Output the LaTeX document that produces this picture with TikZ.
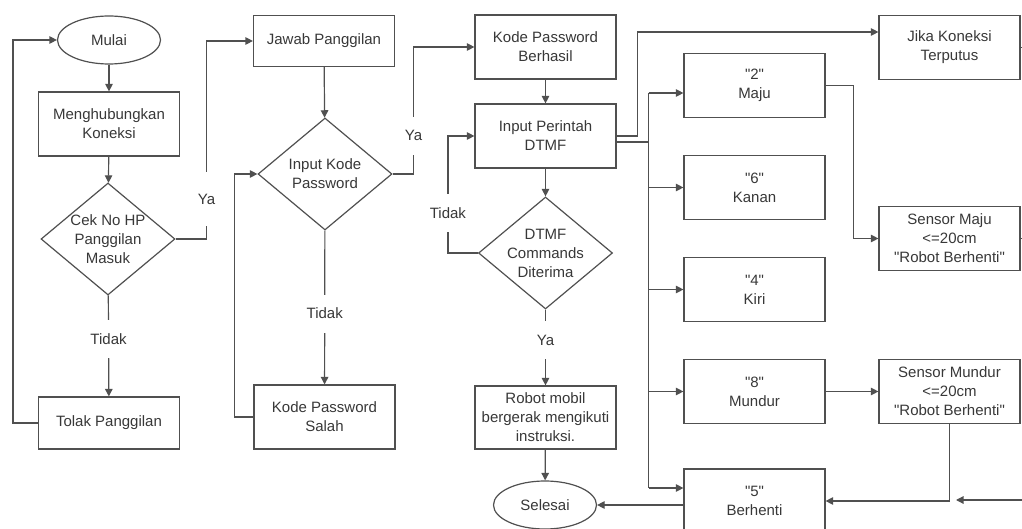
\documentclass[tikz,border=0pt]{standalone}
\usepackage{fontspec}
\setmainfont{Liberation Sans}[Ligatures=TeXOff]
\usepackage{tikz}
\usetikzlibrary{positioning,shapes.geometric,arrows.meta}
\definecolor{linegray}{HTML}{505050}
\definecolor{textgray}{HTML}{383838}

\begin{document}
\begin{tikzpicture}[x=1pt, y=-1pt, >={Triangle[length=7.5pt,width=7.5pt]}, color=linegray, line width=1.2pt,
	every node/.style={font=\fontsize{15}{19}\selectfont, text=textgray},
	process/.style={rectangle, draw, fill=white, minimum width=141pt, minimum height=64pt, align=center, inner sep=2pt},
	decision/.style={diamond, draw, fill=white, aspect=1.2, minimum width=134pt, minimum height=112pt, inner sep=-2pt, align=center},
	terminal/.style={ellipse, draw, fill=white, minimum width=103pt, minimum height=48pt},
	lbl/.style={fill=white, inner sep=1pt, minimum height=38pt}]
	
		\useasboundingbox (0,0) rectangle (1022,529);
		
		\node [terminal] (mulai) at (109,40) {Mulai};
		\node [process] (koneksi) at (109,124) {Menghubungkan\\Koneksi};
		\node [decision] (cekhp) at (108,239) {Cek No HP\\Panggilan\\Masuk};
		\node [process, minimum height=52pt] (tolak) at (109,423) {Tolak Panggilan};
		
		\node [process, minimum height=51pt] (jawab) at (324,41) {Jawab Panggilan};
		\node [decision] (inputkode) at (325,174) {Input Kode\\Password};
		\node [process] (salah) at (324.5,417) {Kode Password\\Salah};
		
		\node [process] (berhasil) at (545.5,47) {Kode Password\\Berhasil};
		\node [process] (perintah) at (545.5,136) {Input Perintah\\DTMF};
		\node [decision] (diterima) at (545.5,253) {DTMF\\Commands\\Diterima};
		\node [process, minimum height=63pt] (robot) at (545.5,417.5) {Robot mobil\\bergerak mengikuti\\instruksi.};
		\node [terminal] (selesai) at (545,505) {Selesai};
		
		\foreach \n/\k/\t/\y in {maju/2/Maju/85.5, kanan/6/Kanan/187.5, kiri/4/Kiri/289.5, mundur/8/Mundur/391.5, berhenti/5/Berhenti/501}
		\node [process] (\n) at (754.5,\y) {"\k"\\\t};
		
		\node [process] (jika) at (949.5,47.5) {Jika Koneksi\\Terputus};
		\node [process] (sensormaju) at (949.5,238.5) {Sensor Maju\\<=20cm\\"Robot Berhenti"};
		\node [process] (sensormundur) at (949.5,391.5) {Sensor Mundur\\<=20cm\\"Robot Berhenti"};
		
		\draw [->] (mulai) -- (koneksi);
		\draw [->] (koneksi) -- (cekhp);
		\draw [->] (cekhp) -- node [lbl, pos=0.43] {Tidak} (tolak);
		\draw [->] (tolak.west) -- ++(-25,0) |- (mulai.west);
		\draw [->] (cekhp.east) -- ++(31,0) |- node [lbl, pos=0.1, minimum height=54pt] {Ya} (jawab.west);
		
		\draw [->] (jawab) -- (inputkode);
		\draw [->] (inputkode) -- node [lbl, pos=0.54] {Tidak} (salah);
		\draw [->] (salah.west) -- ++(-19,0) |- (inputkode.west);
		\draw [->] (inputkode.east) -- ++(21,0) |- node [lbl, pos=0.15] {Ya} (berhasil.west);
		
		\draw [->] (berhasil) -- (perintah);
		\draw [->] (perintah) -- (diterima);
		\draw [->] (diterima.west) -- ++(-30,0) |- node [lbl, pos=0.17] {Tidak} (perintah.west);
		\draw [->] (diterima) -- node [lbl, pos=0.4] {Ya} (robot);
		\draw [->] (robot) -- (selesai);
		
		\draw [->] (perintah.east) -- ++(21,0) |- ([yshift=15.5pt]jika.west);
		\draw ([yshift=-6pt]perintah.east) -- ++(32,0) coordinate (bus);
		
		\foreach \n/\s in {maju/-7.5, kanan/0, kiri/0, mundur/0, berhenti/13}
		\path ([yshift=\s pt]\n.west) coordinate (in-\n);
		
		\draw (bus |- in-maju) -- (bus |- in-berhenti);
		
		\foreach \n in {maju, kanan, kiri, mundur, berhenti}
		\draw [->] (bus |- in-\n) -- (in-\n);
		
		\draw [->] (maju.east) -- ++(28,0) |- (sensormaju.west);
		\draw [->] (mundur) -- (sensormundur);
		\draw [->] (sensormundur.south) |- (berhenti.east);
		\draw [->] (berhenti.west |- selesai.east) -- (selesai.east);
		
		\draw (jika.east) -- ++(10,0);
		\draw (sensormaju.east) -- ++(10,0);
		
		\coordinate (offright) at (1030,500);
		\coordinate (offleft) at (956,500);
		\draw [->] (offright) -- (offleft);
		
	\end{tikzpicture}
\end{document}
